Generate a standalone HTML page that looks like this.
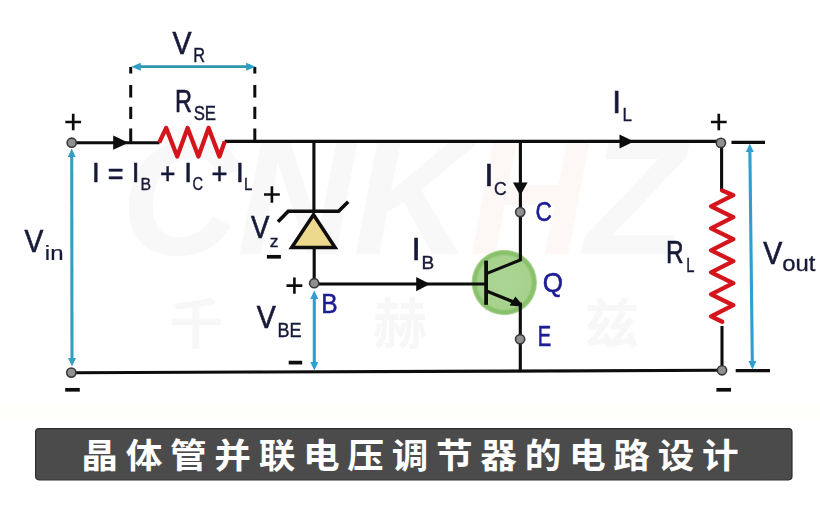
<!DOCTYPE html><html lang="zh"><head><meta charset="utf-8"><title>晶体管并联电压调节器的电路设计</title><style>html,body{margin:0;padding:0;background:#fff}body{width:820px;height:508px;overflow:hidden}svg{display:block}</style></head><body>
<svg width="820" height="508" viewBox="0 0 820 508" font-family="'Liberation Sans', sans-serif">
<rect width="820" height="508" fill="#fff"/>
<defs><filter id="soft" x="0" y="0" width="820" height="425" filterUnits="userSpaceOnUse"><feGaussianBlur stdDeviation="0.55"/></filter></defs>
<g filter="url(#soft)">
<g font-weight="bold" font-style="italic" font-size="165" fill="#f8f8f9"><text transform="translate(121,254) scale(0.99,1)" letter-spacing="-2">CNK<tspan fill="#fdf8f6">H</tspan>Z</text></g>
<g font-family="'Liberation Sans', 'Noto Sans CJK SC', sans-serif" font-size="54" font-weight="bold" fill="#f7f7f7"><text x="169" y="344">千</text><text x="373" y="344">赫</text><text x="585" y="344">兹</text></g>
<rect x="0" y="406" width="820" height="12" fill="#fefefa"/>
<defs><radialGradient id="tg" cx="50%" cy="50%" r="50%"><stop offset="0" stop-color="#acd595"/><stop offset="0.8" stop-color="#a6d28d"/><stop offset="0.88" stop-color="#88c06a"/><stop offset="0.95" stop-color="#8ac26d"/><stop offset="1" stop-color="#c4e0b4"/></radialGradient></defs>
<circle cx="504.3" cy="282.5" r="32.8" fill="url(#tg)"/>
<g stroke="#0d0d0d" stroke-width="3.1" fill="none" stroke-linecap="butt">
<path d="M72 142.7H159.5 M224.6 141.4H721.5 M72 372.70L722 370.30"/>
<path d="M313.9 141.4V212 M314.2 248V283.5 M314 284H487"/>
<path d="M520.4 141.4V259.9L487 273.4 M520.3 302.5V371.05"/>
<path d="M721.6 141.4V190.5 M722 326V370.30"/>
<path d="M731.5 142.4H765 M735.7 370.6H770"/>
</g>
<g stroke="#0d0d0d" stroke-width="3">
<line x1="130.7" y1="67" x2="130.7" y2="73.5"/>
<line x1="130.7" y1="85" x2="130.7" y2="97.5"/>
<line x1="130.7" y1="106.8" x2="130.7" y2="119"/>
<line x1="130.7" y1="128.5" x2="130.7" y2="142.5"/>
<line x1="254.8" y1="67" x2="254.8" y2="73.5"/>
<line x1="254.8" y1="85" x2="254.8" y2="97.5"/>
<line x1="254.8" y1="106.8" x2="254.8" y2="119"/>
<line x1="254.8" y1="128.5" x2="254.8" y2="142.5"/>
</g>
<g stroke="#2f97ad" fill="#2f97ad"><line x1="138" y1="66.7" x2="248" y2="66.7" stroke-width="2.7"/><path d="M131.3 66.7l9.5 -4v8z M255.6 66.7l-9.5 -4v8z" fill="#2f9fc4" stroke="none"/></g>
<polyline points="159.2,142.7 166.2,127.9 177.2,156.5 187.6,127.9 198.4,156.5 208.6,127.9 219.4,156.5 224.8,141.4" fill="none" stroke="#d4141c" stroke-width="4.3" stroke-linejoin="round" stroke-linecap="butt"/>
<polyline points="722.2,190.6 733.3,195.2 711.1,206.4 733.3,217.2 711.1,228.4 733.3,239.2 711.1,250.4 733.3,261.2 711.1,272.4 733.3,283.2 711.1,294.4 733.3,305.2 711.1,316.4 722.2,321.8" fill="none" stroke="#d4141c" stroke-width="4.3" stroke-linejoin="round" stroke-linecap="round"/>
<g fill="#0d0d0d">
<path d="M128.5 142.7l-15.3 -7.1v14.2z"/>
<path d="M634 141.4l-14.5 -7v14z"/>
<path d="M520.3 195.6l-7.3 -13.2h14.6z"/>
<path d="M430 284.1l-13.8 -7.1v14.2z"/>
</g>
<g stroke="#359fc0" fill="#359fc0"><line x1="71.71" y1="155.1" x2="71.99" y2="359.9" stroke-width="3.1"/><path d="M71.7 148.6l-4.0 8.5h8.0z M72 366.4l-4.0 -8.5h8.0z" stroke="none"/></g>
<g stroke="#2f9fd0" fill="#2f9fd0"><line x1="314.30" y1="296.9" x2="314.30" y2="364.1" stroke-width="3.1"/><path d="M314.3 290.4l-4.0 8.5h8.0z M314.3 370.6l-4.0 -8.5h8.0z" stroke="none"/></g>
<g stroke="#2f9fd0" fill="#2f9fd0"><line x1="749.87" y1="150.0" x2="752.33" y2="363.1" stroke-width="3.1"/><path d="M749.8 143.5l-4.0 8.5h8.0z M752.4 369.6l-4.0 -8.5h8.0z" stroke="none"/></g>
<path d="M313.5 214.7L291.7 247.5H335.1Z" fill="#edd98e" stroke="#0d0d0d" stroke-width="3.5" stroke-linejoin="miter"/>
<path d="M278 221.8L288.2 211.2H338.6L348.2 201.8" fill="none" stroke="#0d0d0d" stroke-width="3.6"/>
<g stroke="#0d0d0d" fill="none"><line x1="486.1" y1="260.6" x2="486.1" y2="304.8" stroke-width="3.8"/><path d="M487 291.2L515 302.6" stroke-width="3.3"/></g>
<path d="M515.4 296.6L522 304.6L521.8 306.4L509.6 305.6z" fill="#0d0d0d"/>
<circle cx="71.7" cy="142.7" r="4.6" fill="#909090" stroke="#383838" stroke-width="1.6"/>
<circle cx="71.3" cy="372.6" r="4.6" fill="#909090" stroke="#383838" stroke-width="1.6"/>
<circle cx="314.2" cy="283.2" r="4.6" fill="#909090" stroke="#383838" stroke-width="1.6"/>
<circle cx="520.2" cy="212.1" r="4.6" fill="#909090" stroke="#383838" stroke-width="1.6"/>
<circle cx="520.1" cy="339.2" r="4.6" fill="#909090" stroke="#383838" stroke-width="1.6"/>
<circle cx="720.9" cy="142.9" r="4.6" fill="#909090" stroke="#383838" stroke-width="1.6"/>
<circle cx="722" cy="370.3" r="4.6" fill="#909090" stroke="#383838" stroke-width="1.6"/>
<path d="M65.3 122H81.10000000000001M73.2 113.8V130.2" stroke="#0d0d0d" stroke-width="2.65" fill="none"/>
<path d="M264.0 194.5H279.79999999999995M271.9 186.3V202.7" stroke="#0d0d0d" stroke-width="2.65" fill="none"/>
<path d="M286.5 285.6H302.29999999999995M294.4 277.40000000000003V293.8" stroke="#0d0d0d" stroke-width="2.65" fill="none"/>
<path d="M710.9 122H726.6999999999999M718.8 113.8V130.2" stroke="#0d0d0d" stroke-width="2.65" fill="none"/>
<path d="M65.2 389.8H79.8" stroke="#0d0d0d" stroke-width="3.7" fill="none"/>
<path d="M266.9 256.8H280.9" stroke="#0d0d0d" stroke-width="3.7" fill="none"/>
<path d="M288.7 362.6H302.2" stroke="#0d0d0d" stroke-width="3.7" fill="none"/>
<path d="M716.4 389.8H731" stroke="#0d0d0d" stroke-width="3.7" fill="none"/>
<text transform="translate(172.48,53.62) scale(0.908,1)" font-size="31.47" fill="#171a38" stroke="#171a38" stroke-width="0.65">V</text>
<text transform="translate(193.31,62.05) scale(0.846,1)" font-size="19.33" fill="#171a38" stroke="#171a38" stroke-width="0.4">R</text>
<text transform="translate(174.94,111.63) scale(0.755,1)" font-size="31.19" fill="#171a38" stroke="#171a38" stroke-width="0.64">R</text>
<text transform="translate(193.68,120.14) scale(0.837,1)" font-size="20.04" fill="#171a38" stroke="#171a38" stroke-width="0.41">SE</text>
<text transform="translate(24.54,252.12) scale(0.881,1)" font-size="32.03" fill="#171a38" stroke="#171a38" stroke-width="0.66">V</text>
<text transform="translate(44.85,259.94) scale(1.243,1)" font-size="19.30" fill="#171a38" stroke="#171a38" stroke-width="0.21">in</text>
<text transform="translate(251.04,238.43) scale(0.882,1)" font-size="31.32" fill="#171a38" stroke="#171a38" stroke-width="0.65">V</text>
<text transform="translate(269.81,246.57) scale(1.020,1)" font-size="17.12" fill="#171a38" stroke="#171a38" stroke-width="0.36">z</text>
<text transform="translate(256.63,328.32) scale(0.903,1)" font-size="31.61" fill="#171a38" stroke="#171a38" stroke-width="0.65">V</text>
<text transform="translate(277.38,337.24) scale(0.887,1)" font-size="20.32" fill="#171a38" stroke="#171a38" stroke-width="0.42">BE</text>
<text transform="translate(484.44,186.13) scale(1.000,1)" font-size="31.76" fill="#171a38" stroke="#171a38" stroke-width="0.65">I</text>
<text transform="translate(494.04,194.87) scale(0.941,1)" font-size="18.67" fill="#171a38" stroke="#171a38" stroke-width="0.38">C</text>
<text transform="translate(411.72,260.02) scale(1.000,1)" font-size="31.89" fill="#171a38" stroke="#171a38" stroke-width="0.66">I</text>
<text transform="translate(421.49,268.56) scale(1.013,1)" font-size="18.76" fill="#171a38" stroke="#171a38" stroke-width="0.39">B</text>
<text transform="translate(612.31,112.83) scale(1.000,1)" font-size="31.61" fill="#171a38" stroke="#171a38" stroke-width="0.65">I</text>
<text transform="translate(622.55,121.46) scale(0.894,1)" font-size="19.06" fill="#171a38" stroke="#171a38" stroke-width="0.39">L</text>
<text transform="translate(665.88,263.43) scale(0.778,1)" font-size="31.32" fill="#171a38" stroke="#171a38" stroke-width="0.65">R</text>
<text transform="translate(686.34,271.85) scale(0.751,1)" font-size="19.62" fill="#171a38" stroke="#171a38" stroke-width="0.4">L</text>
<text transform="translate(763.24,263.72) scale(0.886,1)" font-size="32.18" fill="#171a38" stroke="#171a38" stroke-width="0.66">V</text>
<text transform="translate(782.31,271.47) scale(1.112,1)" font-size="21.45" fill="#171a38" stroke="#171a38" stroke-width="0.33">out</text>
<text transform="translate(92.09,182.37) scale(1.000,1)" font-size="27.81" fill="#171a38" stroke="#171a38" stroke-width="0.57">I</text>
<text transform="translate(107.81,183.51) scale(0.945,1)" font-size="28.60" fill="#171a38" stroke="#171a38" stroke-width="0.57">=</text>
<text transform="translate(131.84,182.37) scale(1.000,1)" font-size="27.81" fill="#171a38" stroke="#171a38" stroke-width="0.57">I</text>
<text transform="translate(140.42,190.08) scale(0.963,1)" font-size="16.51" fill="#171a38" stroke="#171a38" stroke-width="0.34">B</text>
<text transform="translate(160.04,183.61) scale(0.923,1)" font-size="28.60" fill="#171a38" stroke="#171a38" stroke-width="0.57">+</text>
<text transform="translate(184.14,182.37) scale(1.000,1)" font-size="27.81" fill="#171a38" stroke="#171a38" stroke-width="0.57">I</text>
<text transform="translate(192.39,190.30) scale(0.838,1)" font-size="17.43" fill="#171a38" stroke="#171a38" stroke-width="0.36">C</text>
<text transform="translate(211.39,183.61) scale(0.959,1)" font-size="28.60" fill="#171a38" stroke="#171a38" stroke-width="0.57">+</text>
<text transform="translate(235.94,182.37) scale(1.000,1)" font-size="27.81" fill="#171a38" stroke="#171a38" stroke-width="0.57">I</text>
<text transform="translate(243.89,189.88) scale(0.883,1)" font-size="17.08" fill="#171a38" stroke="#171a38" stroke-width="0.35">L</text>
<text transform="translate(321.32,313.17) scale(0.910,1)" font-size="26.95" fill="#1d1b94" stroke="#1d1b94" stroke-width="0.56">B</text>
<text transform="translate(535.57,220.50) scale(0.834,1)" font-size="27.18" fill="#1d1b94" stroke="#1d1b94" stroke-width="0.56">C</text>
<text transform="translate(542.71,292.48) scale(0.918,1)" font-size="28.42" fill="#1d1b94" stroke="#1d1b94" stroke-width="0.58">Q</text>
<text transform="translate(537.69,345.55) scale(0.703,1)" font-size="28.65" fill="#1d1b94" stroke="#1d1b94" stroke-width="0.59">E</text>
</g>
<rect x="35.6" y="428.6" width="756.4" height="51.2" rx="3.5" fill="#4b4b4b" stroke="#2e2e2e" stroke-width="1.2"/>
<text transform="translate(81.3,468.4) scale(1.06,1)" font-family="'Liberation Sans', 'Noto Sans CJK SC', sans-serif" font-weight="bold" font-size="34.6" letter-spacing="7.24" fill="#fff">晶体管并联电压调节器的电路设计</text>
</svg>
</body></html>
